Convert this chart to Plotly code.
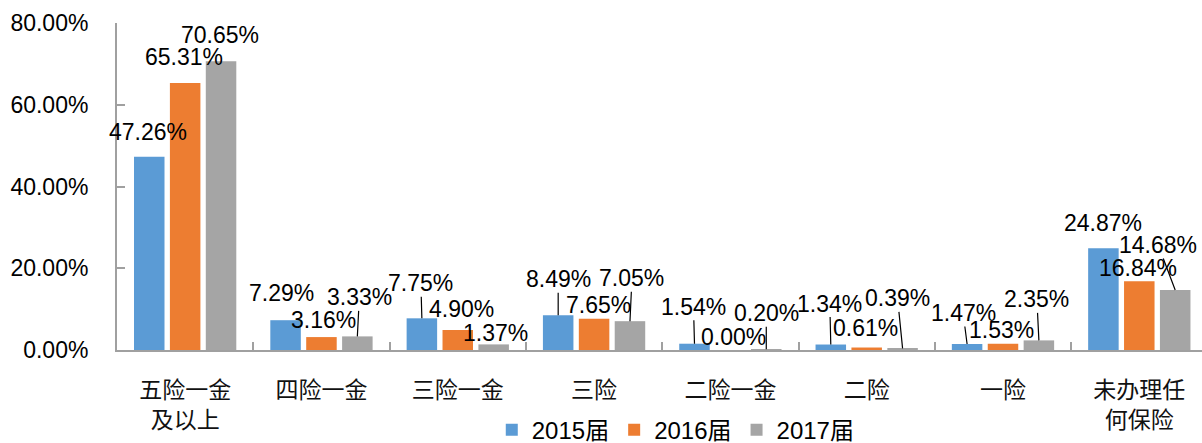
import plotly.graph_objects as go

# Categories of social insurance coverage
categories = ["五险一金<br>及以上", "四险一金", "三险一金", "三险",
              "二险一金", "二险", "一险", "未办理任<br>何保险"]

# Share of graduates (%) per cohort
series_names = ["2015届", "2016届", "2017届"]
values_2015 = [47.26, 7.29, 7.75, 8.49, 1.54, 1.34, 1.47, 24.87]
values_2016 = [65.31, 3.16, 4.90, 7.65, 0.00, 0.61, 1.53, 16.84]
values_2017 = [70.65, 3.33, 1.37, 7.05, 0.20, 0.39, 2.35, 14.68]

y_ticks = [0, 20, 40, 60, 80]

colors = ["#5B9BD5", "#ED7D31", "#A5A5A5"]

# Data-label placement: (dx px, dy px, leader line) relative to each bar top
label_offsets = [
    [(-1, -25, False), (-4, -27, False), (-1, -35, True), (0, -36, True),
     (-1, -37, True), (-1, -41, True), (-4, -31, True), (0, -25, False)],
    [(-1, -26, False), (2, -17, False), (4, -21, False), (4, -14, False),
     (3, -13, False), (-1, -20, False), (-1, -14, False), (-1, -13, False)],
    [(-1, -26, False), (2, -39, True), (2, -11, False), (2, -43, True),
     (0, -36, True), (-5, -50, True), (-2, -41, True), (-17, -45, True)],
]

BARGAP = 0.21
BARGROUPGAP = 0.15
slot = (1 - BARGAP) / 3

label_font = dict(family="Liberation Sans, Arial, sans-serif", size=23, color="#000000")

fig = go.Figure()
all_values = [values_2015, values_2016, values_2017]
for name, vals, col in zip(series_names, all_values, colors):
    fig.add_trace(go.Bar(
        name=name,
        x=categories,
        y=vals,
        marker=dict(color=col, line=dict(width=0)),
    ))

annotations = []
for s, vals in enumerate(all_values):
    for i, v in enumerate(vals):
        dx, dy, leader = label_offsets[s][i]
        xpos = i + (s - 1) * slot
        text = f"{v:.2f}%"
        if leader:
            annotations.append(dict(
                x=xpos, y=v, xref="x", yref="y", text=text,
                showarrow=True, arrowhead=0, arrowwidth=1.2, arrowcolor="#000000",
                ax=dx, ay=dy, font=label_font, borderpad=0,
            ))
        else:
            annotations.append(dict(
                x=xpos, y=v, xref="x", yref="y", text=text,
                showarrow=False, xshift=dx, yshift=-dy, font=label_font,
                xanchor="center", yanchor="middle",
            ))

fig.update_layout(
    width=1202, height=443,
    margin=dict(l=117, r=0, t=23, b=93, autoexpand=False),
    paper_bgcolor="white", plot_bgcolor="white",
    barmode="group", bargap=BARGAP, bargroupgap=BARGROUPGAP,
    annotations=annotations,
    showlegend=True,
    legend=dict(
        orientation="h", x=0.515, xanchor="center", y=-0.245, yanchor="middle",
        font=dict(family="Liberation Sans, Noto Sans CJK SC, sans-serif", size=24, color="#000000"),
        itemwidth=30, traceorder="normal",
    ),
    xaxis=dict(
        type="category",
        range=[-0.5, 7.46], automargin=False,
        showline=True, linecolor="#A0A0A0", linewidth=2,
        ticks="inside", ticklen=8, tickcolor="#A0A0A0", tickwidth=1.5,
        tickson="boundaries",
        showgrid=False, zeroline=False,
        tickfont=dict(family="Noto Sans CJK SC, sans-serif", size=23, color="#111111"),
        ticklabelstandoff=18,
    ),
    yaxis=dict(
        range=[0, 80], tickvals=y_ticks, automargin=False,
        ticktext=[f"{t:.2f}%" for t in y_ticks],
        showline=True, linecolor="#A0A0A0", linewidth=2,
        ticks="inside", ticklen=8, tickcolor="#A0A0A0", tickwidth=1.5,
        showgrid=False, zeroline=False,
        tickfont=dict(family="Liberation Sans, Arial, sans-serif", size=23, color="#000000"),
        ticklabelstandoff=22,
    ),
)

fig.write_html("out.html")
